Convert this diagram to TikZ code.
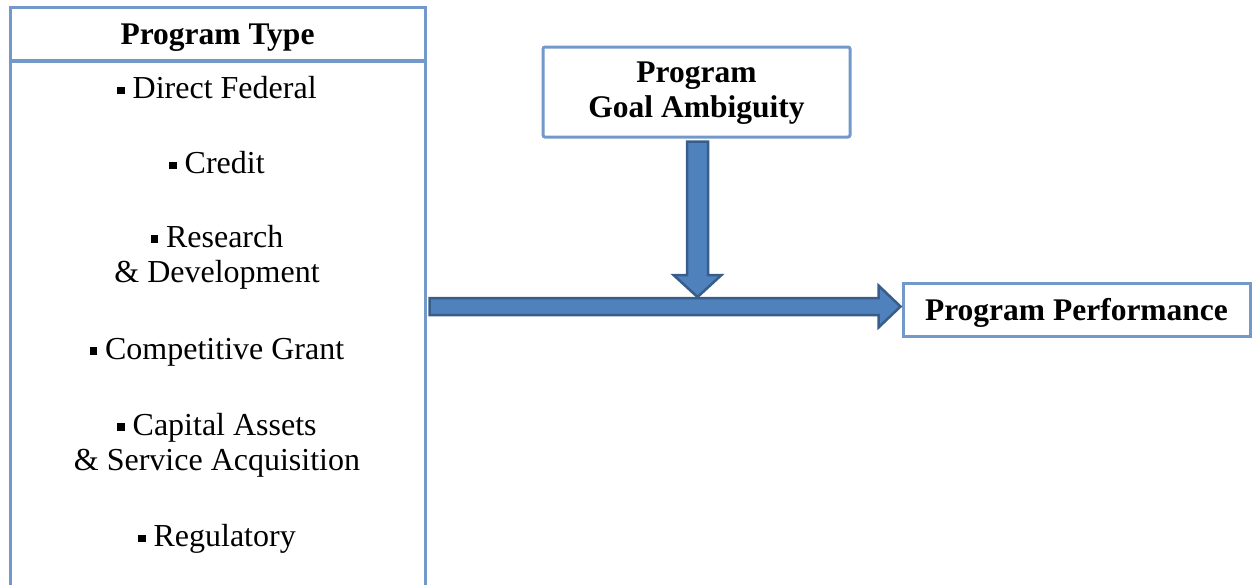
\documentclass[tikz,border=0pt]{standalone}
\usepackage{fontspec}
\setmainfont{Liberation Serif}
\usetikzlibrary{calc}
\definecolor{boxline}{RGB}{115,153,203}
\definecolor{arrowfill}{RGB}{79,129,189}
\definecolor{arrowline}{RGB}{56,93,138}
\newcommand{\itembullet}{\rule[0.14em]{0.23em}{0.23em}\ }
\begin{document}
\begin{tikzpicture}[x=1pt,y=1pt,
  box/.style={draw=boxline, line width=3pt, fill=white, inner sep=0pt},
  txt/.style={font=\fontsize{32}{35}\selectfont, align=center, inner sep=0pt},
  bold/.style={txt, font=\fontsize{31.5}{35}\selectfont\bfseries},
  blockarrow/.style={fill=arrowfill, draw=arrowline, line width=2.5pt, line join=miter}]
\useasboundingbox (0,0) rectangle (1252,-584);

% left column: header and list of program types
\node[box, minimum width=415pt, minimum height=53pt] (head) at (217.5,-33.5) {};
\node[bold] (headtxt) at (217.5,-38) {Program Type};
\node[box, minimum width=415pt, minimum height=539pt] (types) at (217.5,-330.5) {};
\node[txt] (t1) at (217,-88)  {\itembullet Direct Federal};
\node[txt] (t2) at (217,-163) {\itembullet Credit};
\node[txt] (t3) at (217,-257) {\itembullet Research\\ \& Development};
\node[txt] (t4) at (217,-352) {\itembullet Competitive Grant};
\node[txt] (t5) at (217,-445) {\itembullet Capital Assets\\ \& Service Acquisition};
\node[txt] (t6) at (217,-539) {\itembullet Regulatory};

% moderator and outcome boxes
\node[box, rounded corners=2pt, minimum width=307pt, minimum height=90pt] (goal) at (696.5,-92) {};
\node[bold] (goaltxt) at (696.5,-93) {Program\\ Goal Ambiguity};
\node[box, minimum width=347pt, minimum height=53pt] (perf) at (1076.5,-309.5) {};
\node[bold] (perftxt) at (1076.5,-313) {Program Performance};

% block arrows
\coordinate (hA) at ($(types.east |- perf.west)+(3pt,3pt)$);
\coordinate (hB) at ($(perf.west)+(-1pt,3pt)$);
\coordinate (vA) at ($(goal.south)+(1pt,-3pt)$);
\coordinate (vB) at ($(vA |- hA)+(0,9.5pt)$);

\draw[blockarrow] ($(vA)+(-10.5pt,0)$) -- ($(vB)+(-10.5pt,22pt)$) -- ++(-13.5pt,0)
  -- (vB) -- ++(24pt,22pt) -- ++(-13.5pt,0) -- ($(vA)+(10.5pt,0)$) -- cycle;

\draw[blockarrow] ($(hA)+(0,8.5pt)$) -- ($(hB)+(-22pt,8.5pt)$) -- ++(0,12.5pt)
  -- (hB) -- ++(-22pt,-21pt) -- ++(0,12.5pt) -- ($(hA)+(0,-8.5pt)$) -- cycle;
\end{tikzpicture}
\end{document}
